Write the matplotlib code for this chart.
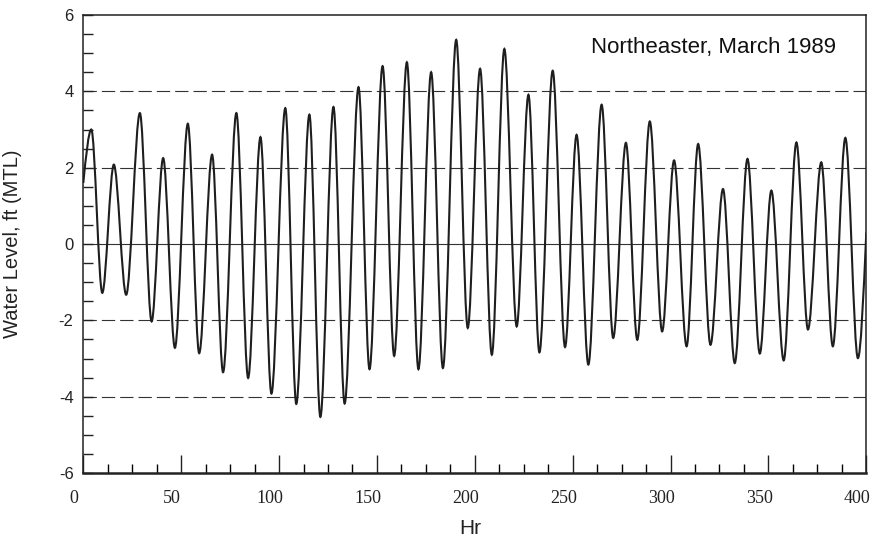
import numpy as np
import matplotlib
matplotlib.use("Agg")
import matplotlib.pyplot as plt
import matplotlib.transforms as mtransforms
from matplotlib.path import Path
from matplotlib.patches import PathPatch
from matplotlib import font_manager

# tide extremes (hour, water level ft MTL)
hours = [0.0, 4.1, 9.7, 15.6, 21.9, 28.9, 34.9, 40.8, 46.8, 53.4, 59.2,
         65.8, 71.4, 78.2, 84.2, 90.5, 96.1, 103.2, 108.8, 115.5, 121.1,
         127.8, 133.5, 140.6, 146.2, 152.9, 158.8, 165.3, 171.2, 177.7, 183.7,
         190.5, 196.4, 202.7, 208.7, 215.1, 221.4, 227.4, 233.0, 239.8, 246.1,
         252.0, 258.0, 264.8, 270.7, 277.2, 283.0, 289.4, 295.7, 301.8, 308.2,
         314.1, 320.4, 326.8, 332.8, 339.3, 345.6, 351.5, 357.8, 364.3, 370.2,
         377.0, 382.9, 389.3, 395.7, 400.0]
level = [1.6, 3.0, -1.28, 2.08, -1.33, 3.43, -2.03, 2.25, -2.72, 3.15, -2.86,
         2.34, -3.36, 3.43, -3.51, 2.80, -3.92, 3.56, -4.19, 3.39, -4.53,
         3.59, -4.18, 4.11, -3.28, 4.66, -2.93, 4.76, -3.28, 4.50, -3.25,
         5.35, -2.20, 4.59, -2.90, 5.11, -2.16, 3.91, -2.84, 4.54, -2.70,
         2.86, -3.16, 3.65, -2.46, 2.65, -2.51, 3.21, -2.29, 2.19, -2.68,
         2.62, -2.64, 1.44, -3.12, 2.23, -2.87, 1.40, -3.05, 2.66, -2.24,
         2.14, -2.68, 2.78, -2.99, 0.3]

x_ticks = [0, 50, 100, 150, 200, 250, 300, 350, 400]
y_ticks = [-6, -4, -2, 0, 2, 4, 6]
dashed_levels = [-4, -2, 2, 4]
title = "Northeaster, March 1989"

names = {f.name for f in font_manager.fontManager.ttflist}
narrow = "Liberation Sans Narrow" if "Liberation Sans Narrow" in names else None

fig = plt.figure(figsize=(8.73, 5.49), dpi=100)
ax = fig.add_axes([83.3 / 873, 1 - 473 / 549, 783 / 873, 458 / 549])
ax.set_xlim(0, 400)
ax.set_ylim(-6, 6)

for lv in dashed_levels:
    ax.axhline(lv, color="#333333", lw=0.8, dashes=(12, 4.5), zorder=1)
ax.axhline(0, color="#333333", lw=0.8, zorder=1)

# smooth tide curve: cubic bezier between extremes, flat tangent at each turn
a = 0.33
verts = [(hours[0], level[0])]
codes = [Path.MOVETO]
n = len(hours)
for i in range(n - 1):
    x0, y0, x1, y1 = hours[i], level[i], hours[i + 1], level[i + 1]
    dx = x1 - x0
    if i == 0:
        c1 = (x0 + dx / 3, y0 + (y1 - y0) / 2)
    else:
        c1 = (x0 + a * dx, y0)
    if i == n - 2:
        c2 = (x1 - dx / 3, y1 - (y1 - y0) / 2)
    else:
        c2 = (x1 - a * dx, y1)
    verts += [c1, c2, (x1, y1)]
    codes += [Path.CURVE4] * 3
ax.add_patch(PathPatch(Path(verts, codes), fill=False, edgecolor="#1e1e1e",
                       lw=1.5, zorder=3, clip_on=True))

ax.set_xticks(x_ticks)
ax.set_xticks(np.arange(0, 401, 12.5), minor=True)
ax.set_yticks(y_ticks)
ax.set_yticks(np.arange(-6, 6.01, 0.5), minor=True)
ax.tick_params(axis="x", which="major", direction="in", length=13, width=1.0,
               pad=12, labelsize=13, colors="#222222")
ax.tick_params(axis="x", which="minor", direction="in", length=6.5, width=1.0)
ax.tick_params(axis="y", which="both", direction="in", length=7, width=1.0,
               pad=7, labelsize=12, colors="#222222")
ax.set_xticklabels([str(t) for t in x_ticks], family="Liberation Serif")
ax.set_yticklabels([str(t) for t in y_ticks], family="Liberation Sans")
shift = mtransforms.ScaledTranslation(-9 / 100, 0, fig.dpi_scale_trans)
for lab in ax.get_xticklabels():
    lab.set_transform(lab.get_transform() + shift)

for side in ["left", "top", "right"]:
    ax.spines[side].set_linewidth(1.1)
    ax.spines[side].set_color("#222222")
ax.spines["bottom"].set_linewidth(1.8)
ax.spines["bottom"].set_color("#222222")

ax.set_ylabel("Water Level, ft (MTL)", family="Liberation Sans", fontsize=14.5,
              color="#222222")
ax.yaxis.set_label_coords(-(83.3 - 22) / 783, 0.5)
if narrow:
    ax.set_xlabel("Hr", family=narrow, fontsize=17, color="#222222")
else:
    ax.set_xlabel("Hr", family="Liberation Sans", fontsize=15, color="#222222")
ax.xaxis.set_label_coords((470 - 83.3) / 783, -(528 - 473) / 458)
ax.xaxis.label.set_va("center")

ax.text((591 - 83.3) / 783, (473 - 47) / 458, title, transform=ax.transAxes,
        ha="left", va="center", family="Liberation Sans", fontsize=16,
        color="#111111")

fig.savefig("out.png", dpi=100)
